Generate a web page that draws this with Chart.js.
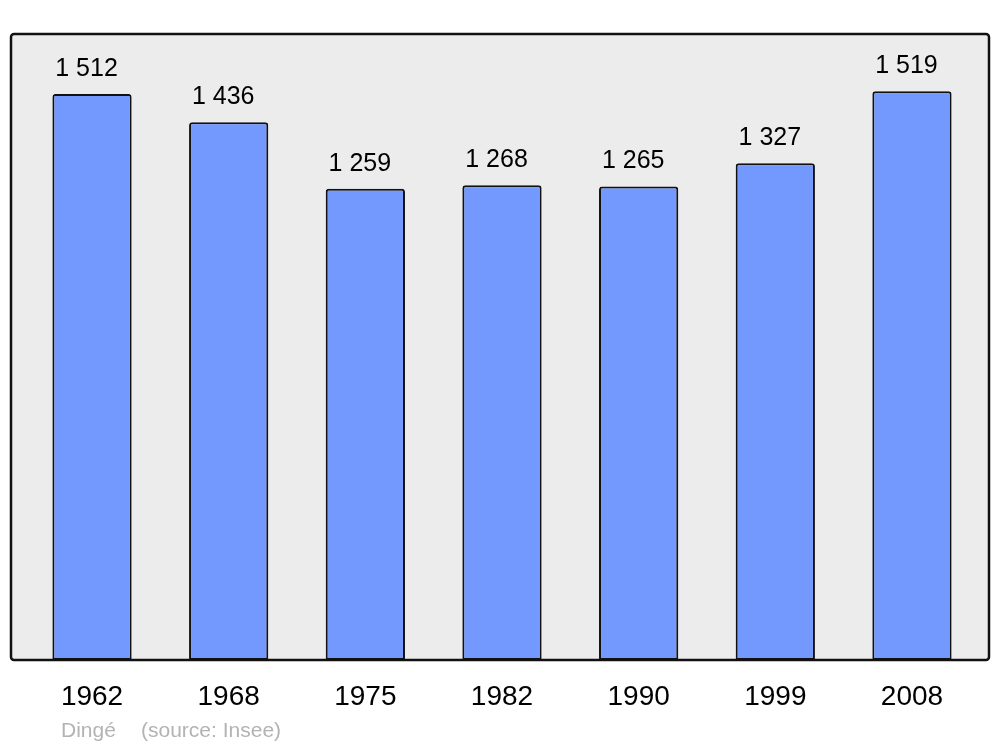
<!DOCTYPE html>
<html>
<head>
<meta charset="utf-8">
<script src="https://cdn.jsdelivr.net/npm/chart.js@4.4.0/dist/chart.umd.min.js"></script>
<style>
html,body{margin:0;padding:0;background:#fff;}
#wrap{position:relative;width:1000px;height:747px;}
</style>
</head>
<body>
<div id="wrap"><canvas id="c" width="1000" height="747"></canvas></div>
<script>
const years = ["1962", "1968", "1975", "1982", "1990", "1999", "2008"];
const population = [1512, 1436, 1259, 1268, 1265, 1327, 1519];
const footerName = "Dingé";
const footerSource = "(source: Insee)";

const FONT = "'Liberation Sans', Arial, sans-serif";

function fmt(v) {
  return String(v).replace(/\B(?=(\d{3})+(?!\d))/g, " ");
}

function roundRect(ctx, x, y, w, h, r) {
  ctx.beginPath();
  ctx.moveTo(x + r, y);
  ctx.lineTo(x + w - r, y);
  ctx.arcTo(x + w, y, x + w, y + r, r);
  ctx.lineTo(x + w, y + h - r);
  ctx.arcTo(x + w, y + h, x + w - r, y + h, r);
  ctx.lineTo(x + r, y + h);
  ctx.arcTo(x, y + h, x, y + h - r, r);
  ctx.lineTo(x, y + r);
  ctx.arcTo(x, y, x + r, y, r);
  ctx.closePath();
}

const FRAME = {x: 11, y: 34, w: 978, h: 626};

const framePlugin = {
  id: 'frame',
  beforeDraw(chart) {
    const ctx = chart.ctx;
    ctx.save();
    ctx.fillStyle = '#fff';
    ctx.fillRect(0, 0, chart.width, chart.height);
    roundRect(ctx, FRAME.x, FRAME.y, FRAME.w, FRAME.h, 3);
    ctx.fillStyle = '#ececec';
    ctx.fill();
    ctx.restore();
  },
  afterDatasetsDraw(chart) {
    const ctx = chart.ctx;
    ctx.save();
    roundRect(ctx, FRAME.x, FRAME.y, FRAME.w, FRAME.h, 3);
    ctx.lineWidth = 2.5;
    ctx.strokeStyle = '#111';
    ctx.stroke();
    // value labels
    const meta = chart.getDatasetMeta(0);
    ctx.fillStyle = '#000';
    ctx.font = '25px ' + FONT;
    ctx.textAlign = 'center';
    ctx.textBaseline = 'alphabetic';
    meta.data.forEach((bar, i) => {
      ctx.fillText(fmt(population[i]), bar.x - 5.5, bar.y - 18);
    });
    // footer
    ctx.fillStyle = '#b3b3b3';
    ctx.font = '21px ' + FONT;
    ctx.textAlign = 'left';
    ctx.fillText(footerName, 61, 737);
    ctx.fillText(footerSource, 141, 737);
    ctx.restore();
  }
};

new Chart(document.getElementById('c'), {
  type: 'bar',
  data: {
    labels: years,
    datasets: [{
      data: population,
      backgroundColor: '#7399ff',
      borderColor: '#111',
      borderWidth: 2,
      borderRadius: {topLeft: 3, topRight: 3, bottomLeft: 0, bottomRight: 0},
      borderSkipped: false,
      barPercentage: 0.58,
      categoryPercentage: 1.0
    }]
  },
  options: {
    responsive: false,
    animation: false,
    devicePixelRatio: 1,
    layout: {padding: {left: 23.7, right: 19.7, top: 34, bottom: 0}},
    plugins: {legend: {display: false}, tooltip: {enabled: false}},
    scales: {
      x: {
        grid: {display: false, drawTicks: false},
        border: {display: false},
        ticks: {color: '#000', font: {family: FONT, size: 28}, padding: 20},
        afterFit(scale) { scale.height = 87; }
      },
      y: {
        display: false,
        min: 0,
        max: 1672
      }
    }
  },
  plugins: [framePlugin]
});
</script>
</body>
</html>
